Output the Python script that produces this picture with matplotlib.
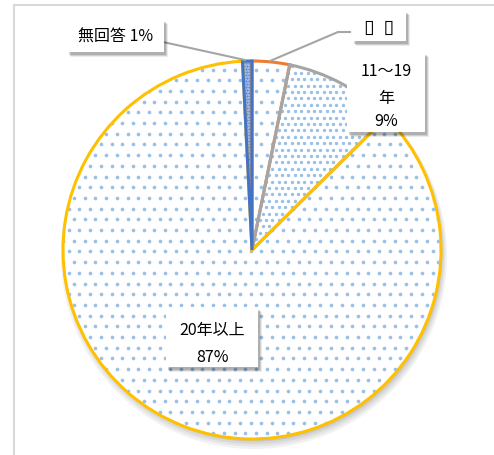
import numpy as np
import matplotlib.pyplot as plt
from matplotlib.patches import Rectangle, Circle

plt.rcParams['font.family'] = ['Noto Sans CJK JP', 'DejaVu Sans']

# data (percent), in chart order starting just left of 12 o'clock, clockwise
labels = ['無回答', '\u25af  \u25af', '11～19年', '20年以上']
values = [0.8, 3.2, 9.4, 86.6]
pct_text = ['1%', '', '9%', '87%']
edge_colors = ['#4472C4', '#ED7D31', '#A5A5A5', '#FFC000']

W, H = 494, 456
fig = plt.figure(figsize=(W / 100, H / 100), dpi=100)
ax = fig.add_axes([0, 0, 1, 1])

cx, cy, r = 252, H - 251, 189  # pie centre and radius in pixels


def py(y):  # pixel row -> data y
    return H - y


# outer border of the chart area
ax.add_patch(Rectangle((14, -20), W + 20, py(6) + 20, fill=False, edgecolor='#D9D9D9', lw=1.5, zorder=0))

# soft shadow under the pie
for i, a in enumerate([0.05, 0.05, 0.06, 0.07]):
    ax.add_patch(Circle((cx + 2, cy - 6 + i), r + 4 - i * 1.5, color='black', alpha=a, lw=0, zorder=0.5))

start = 90 + values[0] * 3.6
wedges, _ = ax.pie(values, startangle=start, counterclock=False, center=(cx, cy), radius=r,
                   colors=['#C9DCF2', 'white', 'white', 'white'],
                   wedgeprops=dict(linewidth=0), frame=True)
for w in wedges:
    w.set_zorder(1)

# dot patterns clipped to each slice
def dot_grid(step):
    xs, ys = [], []
    for j, yy in enumerate(np.arange(cy - r - 5, cy + r + 5, step)):
        shift = (step / 2) * (j % 2)
        for xx in np.arange(cx - r - 5 + shift, cx + r + 5, step):
            xs.append(xx)
            ys.append(yy)
    return np.array(xs), np.array(ys)

patterns = [(3.0, '#4472C4', 4), (10.7, '#6FA6DC', 7), (6.4, '#6FA6DC', 6), (10.7, '#6FA6DC', 7)]
for w, (step, col, s) in zip(wedges, patterns):
    gx, gy = dot_grid(step)
    sc = ax.scatter(gx, gy, s=s, color=col, alpha=0.7, lw=0, zorder=2)
    sc.set_clip_path(w)

# slice outlines
order = [1, 2, 3, 0]
outline, _ = ax.pie(values, startangle=start, counterclock=False, center=(cx, cy), radius=r,
                    colors=['none'] * 4, wedgeprops=dict(linewidth=2.2), frame=True)
for k, w in enumerate(outline):
    w.set_edgecolor(edge_colors[k])
    w.set_facecolor('none')
    w.set_zorder(3 + order.index(k))

ax.set_xlim(0, W)
ax.set_ylim(0, H)
ax.set_aspect('auto')
ax.axis('off')


def label_box(x0, y0, x1, y1, lines, ys, size=11.5):
    for d, a in [(5, 0.08), (4, 0.12), (3, 0.15)]:
        ax.add_patch(Rectangle((x0 + d - 1, py(y1) - d), x1 - x0, y1 - y0, color='black', alpha=a, lw=0, zorder=8))
    ax.add_patch(Rectangle((x0, py(y1)), x1 - x0, y1 - y0, facecolor='white', edgecolor='none', zorder=9))
    for t, yy in zip(lines, ys):
        ax.text((x0 + x1) / 2, py(yy), t, ha='center', va='center', fontsize=size, zorder=10)


# leader lines
ax.plot([163, 245], [py(43), py(61)], color='#A5A5A5', lw=1.5, zorder=7)
ax.plot([350, 338, 270], [py(33), py(33), py(62)], color='#A5A5A5', lw=1.5, zorder=7)

label_box(67, 20, 164, 53, [labels[0] + ' ' + pct_text[0]], [37])
label_box(352, 11, 406, 42, [labels[1]], [27], size=14)
label_box(347, 53, 425, 133, ['11～19', '年', pct_text[2]], [71, 98, 122])
label_box(166, 308, 258, 368, [labels[3], pct_text[3]], [331, 357])

fig.savefig('out.png', dpi=100)
